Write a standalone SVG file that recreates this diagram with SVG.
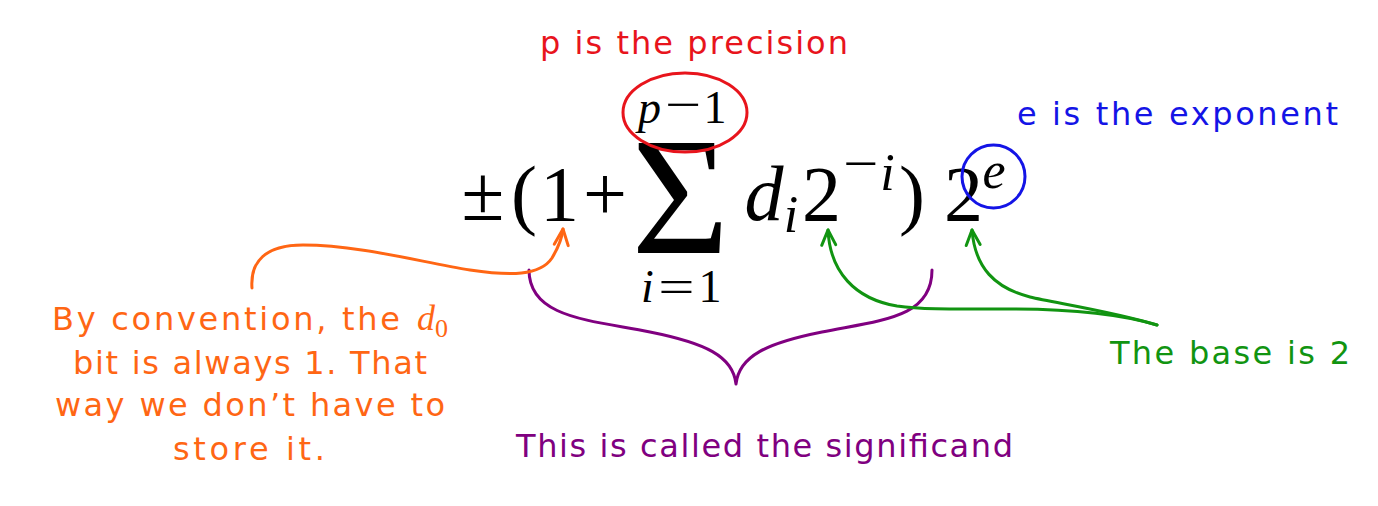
<svg xmlns="http://www.w3.org/2000/svg" width="1378" height="506" viewBox="0 0 1378 506">
<style>
.m{font-family:"Liberation Serif","Times New Roman",serif;fill:#000;text-anchor:middle}
.big{font-size:78px}
.sup{font-size:52px}
.lim{font-size:46px}
.it{font-style:italic}
.h{font-family:"DejaVu Sans","Noto Sans",sans-serif;font-size:32px}
.ln{fill:none;stroke-width:3;stroke-linecap:round;stroke-linejoin:round}
.red{fill:#e8141c}
.blue{fill:#1414e6}
.orange{fill:#ff6614}
.purple{fill:#800080}
.green{fill:#119411}
</style>
<defs>
<marker id="ah-orange" markerUnits="userSpaceOnUse" markerWidth="30" markerHeight="30" refX="0" refY="0" orient="auto" overflow="visible">
<path d="M-16,-7 L0,0 L-16,7" fill="none" stroke="#ff6614" stroke-width="3" stroke-linecap="round" stroke-linejoin="round"/>
</marker>
<marker id="ah-green" markerUnits="userSpaceOnUse" markerWidth="30" markerHeight="30" refX="0" refY="0" orient="auto" overflow="visible">
<path d="M-15,-7 L0,0 L-15,7" fill="none" stroke="#119411" stroke-width="3" stroke-linecap="round" stroke-linejoin="round"/>
</marker>
</defs>
<rect width="1378" height="506" fill="#fff"/>

<g id="formula">
<text class="m big" x="483" y="220">±</text>
<text class="m big" x="524" y="220">(</text>
<text class="m big" x="559.5" y="220">1</text>
<text class="m big" x="605" y="220">+</text>
<text class="m" style="font-size:168px" x="680.5" y="253">Σ</text>
<text class="m lim it" x="649.5" y="123">p</text>
<text class="m lim" transform="translate(683.5,120) scale(1.4,1)" x="0" y="0">−</text>
<text class="m lim" x="715" y="123">1</text>
<text class="m lim it" x="647.5" y="302">i</text>
<text class="m lim" transform="translate(676.5,302) scale(1.4,1)" x="0" y="0">=</text>
<text class="m lim" x="710" y="302">1</text>
<text class="m big it" x="764" y="220">d</text>
<text class="m sup it" x="791" y="232">i</text>
<text class="m big" x="821.5" y="220">2</text>
<text class="m sup" transform="translate(860.5,181) scale(1.2,1)" x="0" y="0">−</text>
<text class="m sup it" x="887.5" y="190">i</text>
<text class="m big" x="912" y="220">)</text>
<text class="m big" x="963.5" y="220">2</text>
<text class="m sup it" x="994" y="188">e</text>
</g>

<g id="precision-label">
<ellipse cx="685" cy="112.5" rx="62" ry="39.5" fill="none" stroke="#e8141c" stroke-width="3"/>
<text class="h red" x="540" y="54" textLength="308">p is the precision</text>
</g>

<g id="exponent-label">
<circle cx="993.5" cy="176.5" r="31.5" fill="none" stroke="#1414e6" stroke-width="3"/>
<text class="h blue" x="1017" y="125" textLength="321">e is the exponent</text>
</g>

<g id="convention-note">
<text class="h orange" x="52" y="330" textLength="348">By convention, the</text>
<text class="orange" x="417" y="330" style="font-family:'Liberation Serif',serif;font-style:italic;font-size:36px">d</text>
<text class="orange" x="435" y="337" style="font-family:'Liberation Serif',serif;font-size:26px">0</text>
<text class="h orange" x="73" y="374" textLength="354">bit is always 1. That</text>
<text class="h orange" x="55" y="416" textLength="390">way we don’t have to</text>
<text class="h orange" x="173" y="460" textLength="152">store it.</text>
</g>

<g id="significand-label">
<text class="h purple" x="516" y="457" textLength="497">This is called the significand</text>
</g>

<g id="base-label">
<text class="h green" x="1110" y="364" textLength="240">The base is 2</text>
</g>

<g id="connectors">
<path class="ln" stroke="#800080" d="M529,270 C529,318 590,320 650,332 C705,343 733,356 736,384 C739,356 767,343 822,332 C882,320 932,318 932,270"/>
<path class="ln" stroke="#ff6614" marker-end="url(#ah-orange)" d="M252,288 C250,262 265,245 303,245 C360,245 420,262 470,270 C510,276 540,276 552,258 C558,248 562,238 563,229"/>
<path class="ln" stroke="#119411" marker-end="url(#ah-green)" d="M1157,325 C1120,314 1075,309 1010,309 C960,309 925,310 897,306 C855,299 830,272 828,230"/>
<path class="ln" stroke="#119411" marker-end="url(#ah-green)" d="M1157,325 C1110,311 1055,303 1030,297 C995,288 975,268 972,230"/>
</g>
</svg>
